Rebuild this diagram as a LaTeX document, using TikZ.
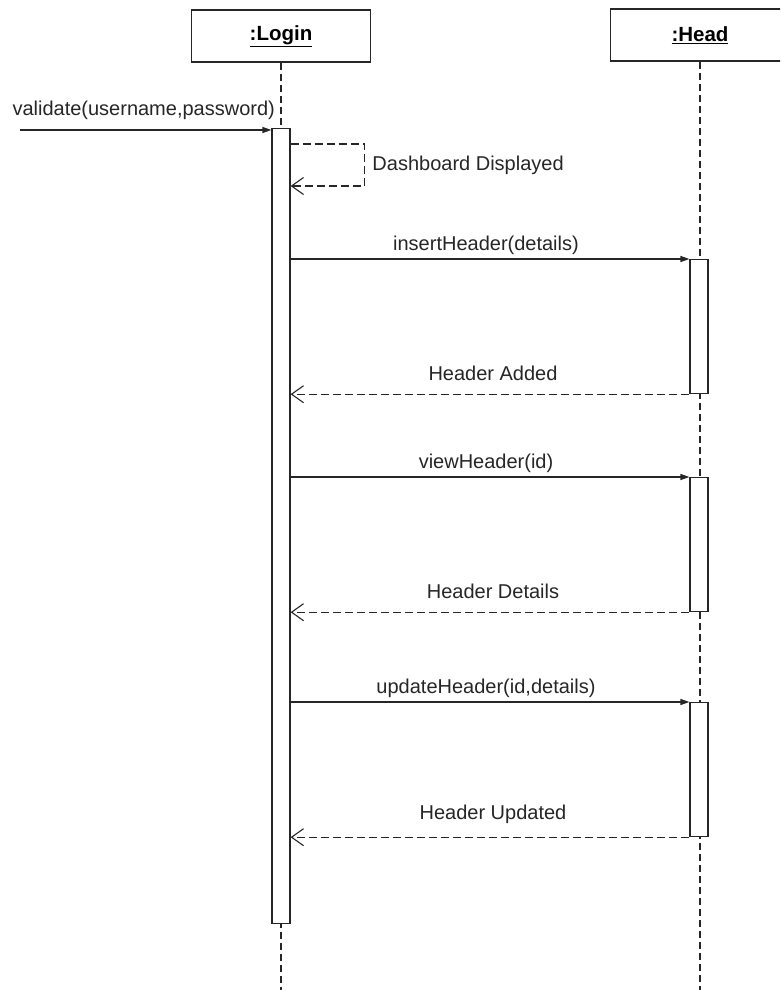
\documentclass[tikz,border=0pt]{standalone}
\usepackage{fontspec}
\setmainfont{Liberation Sans}
\usetikzlibrary{arrows.meta}

\tikzset{
  obj/.style={draw=black!85, line width=1.2pt, minimum width=179pt, minimum height=52pt,
    font=\fontsize{20.5}{24}\selectfont\bfseries},
  act/.style={draw=black!85, line width=1.2pt, fill=white, minimum width=18pt,
    inner sep=0pt, anchor=north},
  life/.style={draw=black!85, dash pattern=on 7pt off 4pt, line width=1.1pt},
  call/.style={draw=black!85, line width=1.2pt, -{Triangle[length=9pt,width=6pt]}},
  reply/.style={draw=black!85, line width=1.1pt, dash pattern=on 8pt off 4pt,
    -{Straight Barb[length=12pt,width=17pt]}},
  msg/.style={font=\fontsize{20}{23}\selectfont, text=black!85}
}

\begin{document}
\begin{tikzpicture}[x=1pt,y=-1pt]
  \clip (0,0) rectangle (780,990);

  % objects and lifelines
  \node[obj] (login) at (281,36) {\underline{:Login}};
  \node[obj] (head) at (700,35) {\underline{:Head}};
  \coordinate (loginend) at (281,990);
  \coordinate (headend) at (700,990);
  \draw[life] (login.south) -- (loginend);
  \draw[life] (head.south) -- (headend);

  % activation bars
  \node[act, minimum height=795pt] (la) at (281,128) {};
  \foreach \i/\y in {1/259, 2/477, 3/702}{
    \node[act, minimum height=134pt] (h\i) at (699,\y) {};
  }

  % incoming call
  \coordinate (caller) at (20,130);
  \draw[call] (caller) -- (caller -| la.west)
    node[msg, midway, above=6pt, xshift=-2pt] {validate(username,password)};

  % self message
  \draw[reply] ([yshift=-16pt]la.north east) -- ++(74,0) -- ++(0,42)
    node[msg, midway, right=4pt] {Dashboard Displayed} -- ++(-74,0);

  % calls to Head and their replies
  \foreach \i/\msgin/\msgout in {1/{insertHeader(details)}/{Header Added},
      2/{viewHeader(id)}/{Header Details}, 3/{updateHeader(id,details)}/{Header Updated}}{
    \draw[call] (la.east |- h\i.north) -- (h\i.north west)
      node[msg, midway, above=0pt, xshift=-4pt] {\msgin};
    \draw[reply] (h\i.south west) -- (la.east |- h\i.south)
      node[msg, midway, above=10pt, xshift=3pt] {\msgout};
  }
\end{tikzpicture}
\end{document}
